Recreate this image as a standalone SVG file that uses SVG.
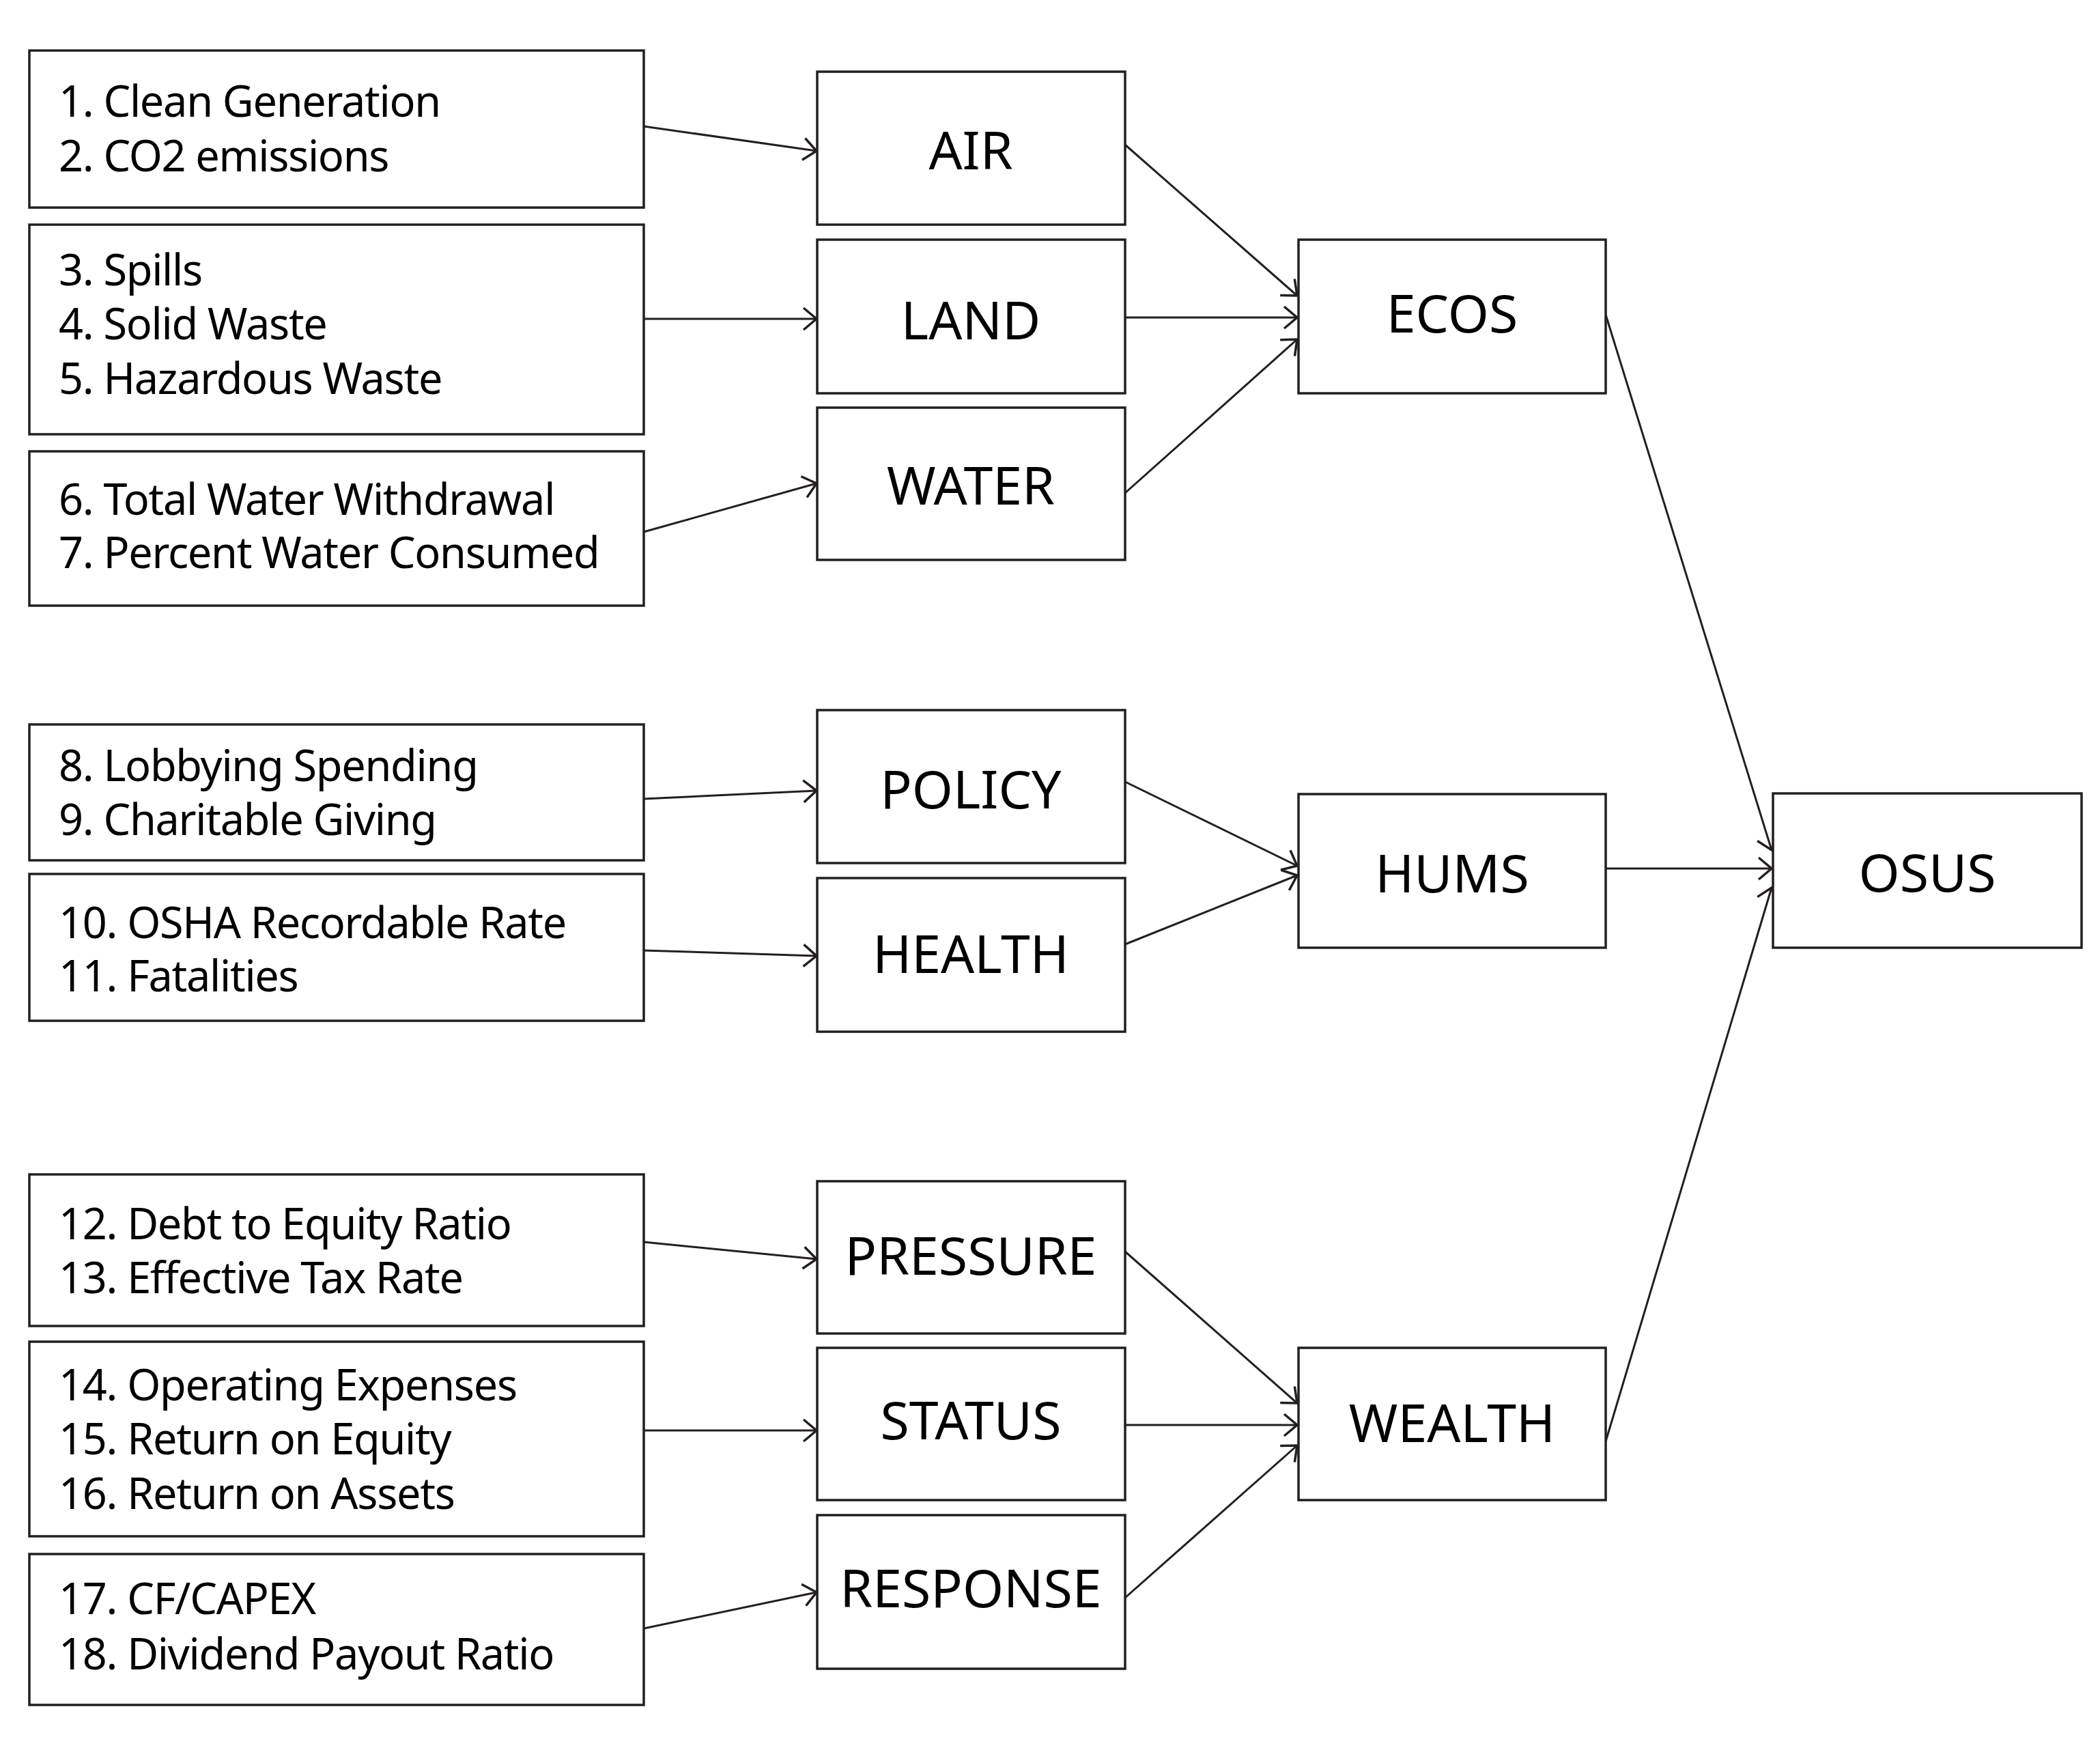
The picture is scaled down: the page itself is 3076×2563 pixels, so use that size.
<svg xmlns="http://www.w3.org/2000/svg" width="3076" height="2563" viewBox="0 0 3076 2563">
<style>
.box{fill:#ffffff;stroke:#231f20;stroke-width:3.5}
.item{font-family:"Noto Sans","Open Sans",sans-serif;font-size:63px;letter-spacing:-1.3px;fill:#000000}
.lbl{font-family:"Noto Sans","Open Sans",sans-serif;font-size:77px;fill:#000000;text-anchor:middle}
.edge{fill:none;stroke:#231f20;stroke-width:3;marker-end:url(#arr)}
</style>
<defs>
<marker id="arr" markerUnits="userSpaceOnUse" viewBox="-24 -20 28 40" markerWidth="28" markerHeight="40" refX="0" refY="0" orient="auto">
<path d="M-19,-16 L0,0 L-19,16" fill="none" stroke="#231f20" stroke-width="3.5"/>
</marker>
</defs>
<rect width="3076" height="2563" fill="#ffffff"/>
<g id="connectors">
<line class="edge" x1="943" y1="185" x2="1196" y2="221"/>
<line class="edge" x1="943" y1="467" x2="1196" y2="467"/>
<line class="edge" x1="943" y1="779" x2="1196" y2="708"/>
<line class="edge" x1="1648" y1="212" x2="1900" y2="433"/>
<line class="edge" x1="1648" y1="465" x2="1900" y2="465"/>
<line class="edge" x1="1648" y1="722" x2="1900" y2="497"/>
<line class="edge" x1="943" y1="1170" x2="1196" y2="1158"/>
<line class="edge" x1="943" y1="1392" x2="1196" y2="1400"/>
<line class="edge" x1="1648" y1="1145" x2="1900" y2="1268"/>
<line class="edge" x1="1648" y1="1383" x2="1900" y2="1282"/>
<line class="edge" x1="943" y1="1819" x2="1196" y2="1844"/>
<line class="edge" x1="943" y1="2095" x2="1196" y2="2095"/>
<line class="edge" x1="943" y1="2385" x2="1196" y2="2332"/>
<line class="edge" x1="1648" y1="1833" x2="1900" y2="2055"/>
<line class="edge" x1="1648" y1="2087" x2="1900" y2="2087"/>
<line class="edge" x1="1648" y1="2340" x2="1900" y2="2117"/>
<line class="edge" x1="2352" y1="461" x2="2595" y2="1245"/>
<line class="edge" x1="2352" y1="1272" x2="2595" y2="1272"/>
<line class="edge" x1="2352" y1="2111" x2="2595" y2="1300"/>
</g>
<g id="m1"><rect class="box" x="43" y="74" width="900" height="230"/><text class="item" x="86" y="171">1. Clean Generation</text><text class="item" x="86" y="251">2. CO2 emissions</text></g>
<g id="m2"><rect class="box" x="43" y="329" width="900" height="307"/><text class="item" x="86" y="418">3. Spills</text><text class="item" x="86" y="497">4. Solid Waste</text><text class="item" x="86" y="577">5. Hazardous Waste</text></g>
<g id="m3"><rect class="box" x="43" y="661" width="900" height="226"/><text class="item" x="86" y="754">6. Total Water Withdrawal</text><text class="item" x="86" y="832">7. Percent Water Consumed</text></g>
<g id="m4"><rect class="box" x="43" y="1061" width="900" height="199"/><text class="item" x="86" y="1144">8. Lobbying Spending</text><text class="item" x="86" y="1223">9. Charitable Giving</text></g>
<g id="m5"><rect class="box" x="43" y="1280" width="900" height="215"/><text class="item" x="86" y="1374">10. OSHA Recordable Rate</text><text class="item" x="86" y="1452">11. Fatalities</text></g>
<g id="m6"><rect class="box" x="43" y="1720" width="900" height="222"/><text class="item" x="86" y="1815">12. Debt to Equity Ratio</text><text class="item" x="86" y="1894">13. Effective Tax Rate</text></g>
<g id="m7"><rect class="box" x="43" y="1965" width="900" height="285"/><text class="item" x="86" y="2051">14. Operating Expenses</text><text class="item" x="86" y="2130">15. Return on Equity</text><text class="item" x="86" y="2210">16. Return on Assets</text></g>
<g id="m8"><rect class="box" x="43" y="2276" width="900" height="221"/><text class="item" x="86" y="2364">17. CF/CAPEX</text><text class="item" x="86" y="2445">18. Dividend Payout Ratio</text></g>
<g id="air"><rect class="box" x="1197" y="105" width="451" height="224"/><text class="lbl" x="1422" y="248">AIR</text></g>
<g id="land"><rect class="box" x="1197" y="351" width="451" height="225"/><text class="lbl" x="1422" y="497">LAND</text></g>
<g id="water"><rect class="box" x="1197" y="597" width="451" height="223"/><text class="lbl" x="1422" y="739">WATER</text></g>
<g id="policy"><rect class="box" x="1197" y="1040" width="451" height="224"/><text class="lbl" x="1422" y="1184">POLICY</text></g>
<g id="health"><rect class="box" x="1197" y="1286" width="451" height="225"/><text class="lbl" x="1422" y="1425">HEALTH</text></g>
<g id="pressure"><rect class="box" x="1197" y="1730" width="451" height="223"/><text class="lbl" x="1422" y="1867">PRESSURE</text></g>
<g id="status"><rect class="box" x="1197" y="1974" width="451" height="223"/><text class="lbl" x="1422" y="2108">STATUS</text></g>
<g id="response"><rect class="box" x="1197" y="2219" width="451" height="225"/><text class="lbl" x="1422" y="2354">RESPONSE</text></g>
<g id="ecos"><rect class="box" x="1902" y="351" width="450" height="225"/><text class="lbl" x="2127" y="487">ECOS</text></g>
<g id="hums"><rect class="box" x="1902" y="1163" width="450" height="225"/><text class="lbl" x="2127" y="1307">HUMS</text></g>
<g id="wealth"><rect class="box" x="1902" y="1974" width="450" height="223"/><text class="lbl" x="2127" y="2112">WEALTH</text></g>
<g id="osus"><rect class="box" x="2597" y="1162" width="452" height="226"/><text class="lbl" x="2823" y="1306">OSUS</text></g>
</svg>
